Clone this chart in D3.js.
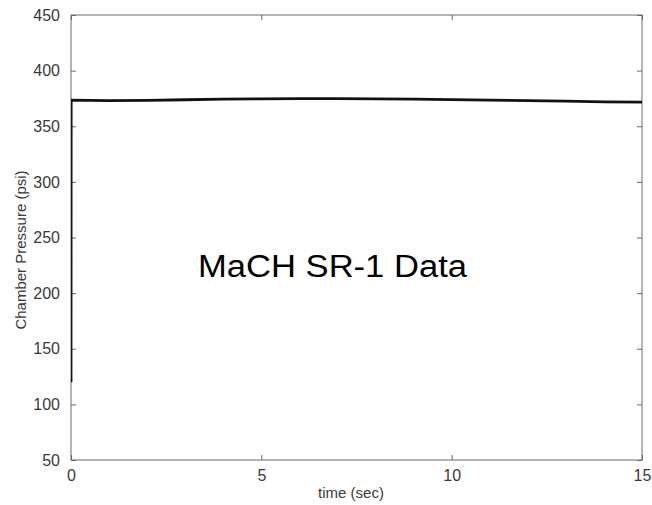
<!DOCTYPE html>
<html>
<head>
<meta charset="utf-8">
<script src="https://cdn.jsdelivr.net/npm/d3@7/dist/d3.min.js"></script>
<style>
  html, body { margin: 0; padding: 0; background: #fff; }
  svg { display: block; }
  .axis text { font-family: "Liberation Sans", Arial, Helvetica, sans-serif; font-size: 16px; fill: #3a3a3a; }
  .axis path, .axis line { stroke: #6a6a6a; }
</style>
</head>
<body>
<svg id="chart" width="652" height="505"></svg>
<script>
// Chamber pressure trace, SR-1 motor firing
const timeSec = [0, 0.004, 0.5, 1, 2, 3, 4, 5, 6, 7, 8, 9, 10, 11, 12, 13, 14, 15];
const pressurePsi = [120, 373.5, 373.2, 373.0, 373.3, 373.8, 374.3, 374.6, 374.8, 374.8, 374.6, 374.3, 373.9, 373.5, 373.0, 372.5, 372.0, 371.7];

const xTicks = [0, 5, 10, 15];
const yTicks = [50, 100, 150, 200, 250, 300, 350, 400, 450];
const xDomain = [0, 15];
const yDomain = [50, 450];

const xLabel = "time (sec)";
const yLabel = "Chamber Pressure (psi)";
const note = "MaCH SR-1 Data";

const svg = d3.select("#chart");
const plot = { left: 71, right: 642, top: 15, bottom: 460 };

const x = d3.scaleLinear().domain(xDomain).range([plot.left, plot.right]);
const y = d3.scaleLinear().domain(yDomain).range([plot.bottom, plot.top]);

// frame
svg.append("rect")
  .attr("x", plot.left).attr("y", plot.top)
  .attr("width", plot.right - plot.left).attr("height", plot.bottom - plot.top)
  .attr("fill", "none").attr("stroke", "#6a6a6a").attr("stroke-width", 1);

// bottom axis (labels) with inward ticks
const gx = svg.append("g").attr("class", "axis")
  .attr("transform", `translate(0,${plot.bottom})`)
  .call(d3.axisBottom(x).tickValues(xTicks).tickSize(-5).tickPadding(10).tickFormat(d3.format("d")));
gx.select(".domain").remove();

// top ticks
const gxt = svg.append("g").attr("class", "axis")
  .attr("transform", `translate(0,${plot.top})`)
  .call(d3.axisTop(x).tickValues(xTicks).tickSize(-5).tickFormat(""));
gxt.select(".domain").remove();

// left axis (labels)
const gy = svg.append("g").attr("class", "axis")
  .attr("transform", `translate(${plot.left},0)`)
  .call(d3.axisLeft(y).tickValues(yTicks).tickSize(-5).tickPadding(11).tickFormat(d3.format("d")));
gy.select(".domain").remove();

// right ticks
const gyr = svg.append("g").attr("class", "axis")
  .attr("transform", `translate(${plot.right},0)`)
  .call(d3.axisRight(y).tickValues(yTicks).tickSize(-5).tickFormat(""));
gyr.select(".domain").remove();

// clip to plot area
svg.append("clipPath").attr("id", "plotClip")
  .append("rect").attr("x", plot.left).attr("y", plot.top)
  .attr("width", plot.right - plot.left).attr("height", plot.bottom - plot.top);

const data = timeSec.map((t, i) => ({ t, p: pressurePsi[i] }));
const line = d3.line().x(d => x(d.t)).y(d => y(d.p));

svg.append("path")
  .datum(data)
  .attr("clip-path", "url(#plotClip)")
  .attr("d", line)
  .attr("fill", "none")
  .attr("stroke", "#111")
  .attr("stroke-width", 2.8)
  .attr("stroke-linejoin", "round");

// axis titles
svg.append("text")
  .attr("x", 351).attr("y", 498)
  .attr("text-anchor", "middle")
  .attr("font-family", "Liberation Sans, Arial, sans-serif")
  .attr("font-size", 15)
  .attr("fill", "#3a3a3a")
  .text(xLabel);

svg.append("text")
  .attr("transform", "translate(26,250) rotate(-90)")
  .attr("text-anchor", "middle")
  .attr("font-family", "Liberation Sans, Arial, sans-serif")
  .attr("font-size", 15)
  .attr("fill", "#3a3a3a")
  .text(yLabel);

// annotation
svg.append("text")
  .attr("x", 198).attr("y", 277)
  .attr("font-family", "Liberation Sans, Arial, sans-serif")
  .attr("font-size", 31)
  .attr("fill", "#000")
  .attr("textLength", 269)
  .attr("lengthAdjust", "spacingAndGlyphs")
  .text(note);
</script>
</body>
</html>
